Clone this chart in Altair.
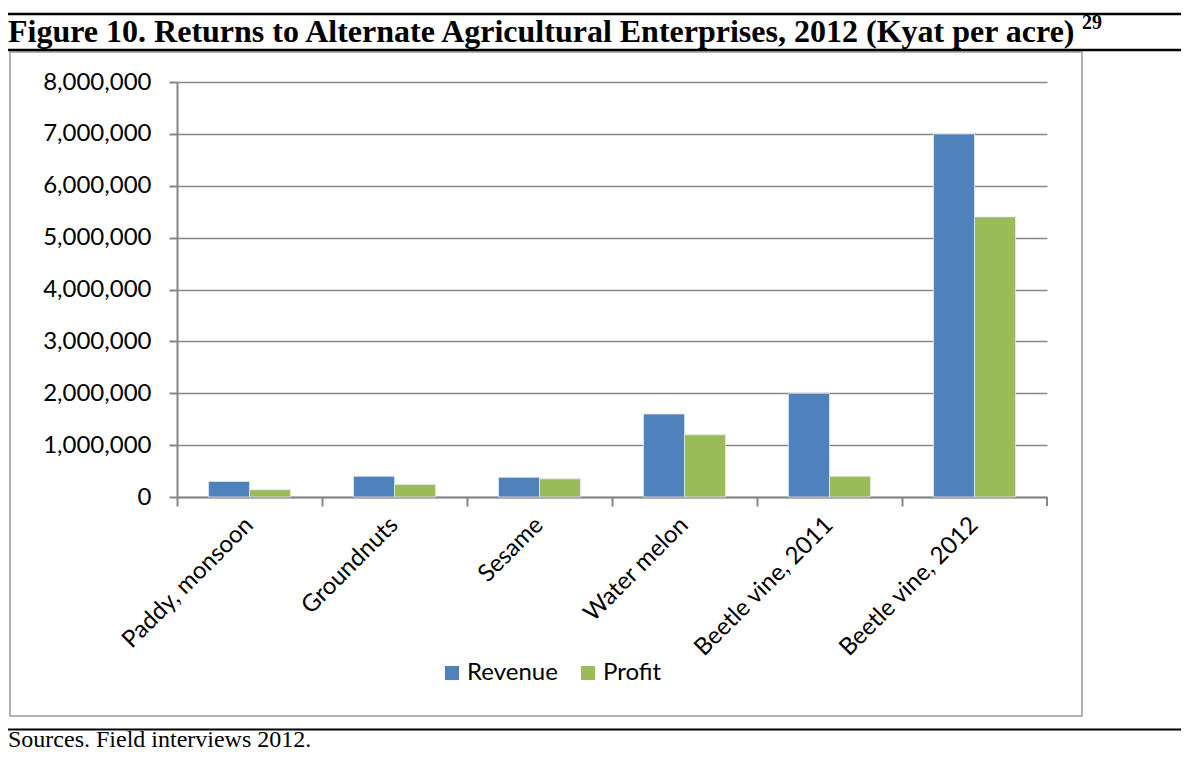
import altair as alt
import pandas as pd

categories = ["Paddy, monsoon", "Groundnuts", "Sesame", "Water melon",
              "Beetle vine, 2011", "Beetle vine, 2012"]
revenue = [300000, 400000, 380000, 1600000, 2000000, 7000000]
profit = [140000, 240000, 350000, 1200000, 400000, 5400000]
series = ["Revenue", "Profit"]
colors = ["#4F81BD", "#9BBB59"]
y_ticks = [0, 1000000, 2000000, 3000000, 4000000, 5000000, 6000000, 7000000, 8000000]

rows = []
for c, r, p in zip(categories, revenue, profit):
    rows.append({"crop": c, "series": "Revenue", "value": r})
    rows.append({"crop": c, "series": "Profit", "value": p})
df = pd.DataFrame(rows)
one = pd.DataFrame({"k": [0]})  # single row for decorations

W, H = 870, 415
OX, OY = 169, 74  # plot origin relative to chart (page minus 8px margin)
AXIS_FONT = "Lato"

bars = alt.Chart(df).mark_bar(stroke="#dfe8f3", strokeWidth=0.8).encode(
    x=alt.X("crop:N", sort=categories,
            scale=alt.Scale(paddingInner=0, paddingOuter=0),
            axis=alt.Axis(title=None, labelAngle=-45, labelAlign="right",
                          labelBaseline="middle", bandPosition=0, labelLimit=400,
                          labelFont=AXIS_FONT, labelFontSize=24, labelColor="black",
                          labelPadding=15, tickSize=9, tickColor="#868686",
                          tickWidth=2, domainColor="#868686", domainWidth=2)),
    xOffset=alt.XOffset("series:N", sort=series,
                        scale=alt.Scale(paddingInner=0, paddingOuter=0.77)),
    y=alt.Y("value:Q", scale=alt.Scale(domain=[0, 8000000], nice=False),
            axis=alt.Axis(title=None, values=y_ticks, format=",d",
                          labelFont=AXIS_FONT, labelFontSize=24, labelColor="black",
                          labelPadding=18, tickSize=8, tickColor="#868686",
                          tickWidth=2, domainColor="#868686", domainWidth=2,
                          gridColor="#868686", gridWidth=1.6)),
    color=alt.Color("series:N", sort=series,
                    scale=alt.Scale(domain=series, range=colors),
                    legend=alt.Legend(title=None, orient="none", direction="horizontal",
                                      legendX=263, legendY=579, symbolType="square",
                                      symbolSize=200, symbolStrokeWidth=0,
                                      labelFont=AXIS_FONT, labelFontSize=24,
                                      labelColor="black", columnPadding=18,
                                      labelOffset=3)),
)

end_tick = alt.Chart(one).mark_rule(color="#868686", strokeWidth=2).encode(
    x=alt.value(W), y=alt.value(H), y2=alt.value(H + 9))

frame = alt.Chart(one).mark_rect(fill=None, stroke="#9a9a9a", strokeWidth=1.5).encode(
    x=alt.value(-167), x2=alt.value(905), y=alt.value(-30), y2=alt.value(634))

top_rule = alt.Chart(one).mark_rule(color="black", strokeWidth=2.5).encode(
    x=alt.value(-186), x2=alt.value(1020), y=alt.value(-68))
mid_rule = alt.Chart(one).mark_rule(color="black", strokeWidth=2.5).encode(
    x=alt.value(-186), x2=alt.value(1020), y=alt.value(-32))
bot_rule = alt.Chart(one).mark_rule(color="black", strokeWidth=2).encode(
    x=alt.value(-186), x2=alt.value(1020), y=alt.value(647.5))

title = alt.Chart(one).mark_text(
    text="Figure 10. Returns to Alternate Agricultural Enterprises, 2012 (Kyat per acre)",
    font="Liberation Serif", fontWeight="bold", fontSize=32, align="left",
    baseline="alphabetic", color="black").encode(x=alt.value(-169), y=alt.value(-40))
sup = alt.Chart(one).mark_text(
    text="29", font="Liberation Serif", fontWeight="bold", fontSize=20, align="left",
    baseline="alphabetic", color="black").encode(x=alt.value(905), y=alt.value(-53))
footer = alt.Chart(one).mark_text(
    text="Sources. Field interviews 2012.", font="Liberation Serif", fontSize=24,
    align="left", baseline="bottom", color="black").encode(
    x=alt.value(-169), y=alt.value(670))

chart = alt.layer(frame, top_rule, mid_rule, bot_rule, title, sup, footer, bars, end_tick).properties(
    width=W, height=H,
    autosize=alt.AutoSizeParams(type="none"),
    padding={"left": OX, "top": OY, "right": 1173 - OX - W, "bottom": 744 - OY - H},
).configure_view(stroke=None).configure_axis(labelFlush=False)

chart.save("out.html", embed_options={"renderer": "svg", "actions": False})
